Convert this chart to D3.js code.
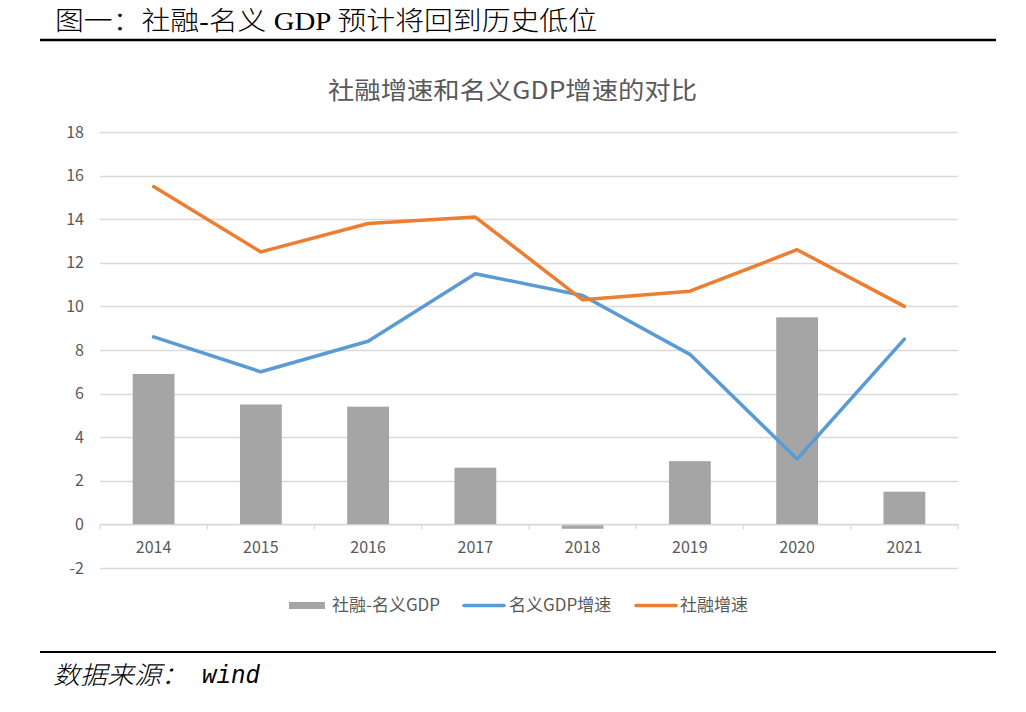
<!DOCTYPE html>
<html>
<head>
<meta charset="utf-8">
<script src="https://cdn.jsdelivr.net/npm/d3@7"></script>
<style>
  html, body { margin: 0; padding: 0; background: #fff; }
  svg { display: block; }
</style>
</head>
<body>
<svg id="chart" width="1026" height="712"></svg>
<script>
const categories = ["2014", "2015", "2016", "2017", "2018", "2019", "2020", "2021"];
const spreadValues = [6.9, 5.5, 5.4, 2.6, -0.2, 2.9, 9.5, 1.5];      // 社融-名义GDP
const gdpGrowth = [8.6, 7.0, 8.4, 11.5, 10.5, 7.8, 3.0, 8.5];        // 名义GDP增速
const tsfGrowth = [15.5, 12.5, 13.8, 14.1, 10.3, 10.7, 12.6, 10.0];  // 社融增速
const yTicks = [-2, 0, 2, 4, 6, 8, 10, 12, 14, 16, 18];
const seriesNames = ["社融-名义GDP", "名义GDP增速", "社融增速"];
const headerTitle = "图一：社融-名义 GDP 预计将回到历史低位";
const chartTitle = "社融增速和名义GDP增速的对比";
const sourceLabel = "数据来源：";
const sourceName = "wind";

const colors = { bar: "#A5A5A5", gdp: "#5B9BD5", tsf: "#ED7D31", grid: "#D9D9D9", text: "#595959" };
const cjk = "'Noto Sans CJK SC', 'Noto Sans', sans-serif";

const svg = d3.select("#chart");

// Header
svg.append("text")
  .attr("x", 55).attr("y", 30)
  .attr("font-family", "'Liberation Serif', 'Noto Sans CJK SC', serif")
  .attr("font-size", 26).attr("font-weight", 300)
  .attr("fill", "#000")
  .attr("textLength", 542).attr("lengthAdjust", "spacingAndGlyphs")
  .text(headerTitle);
svg.append("line").attr("x1", 40).attr("x2", 996).attr("y1", 40).attr("y2", 40)
  .attr("stroke", "#000").attr("stroke-width", 2.5);

// Footer
svg.append("line").attr("x1", 40).attr("x2", 996).attr("y1", 652).attr("y2", 652)
  .attr("stroke", "#000").attr("stroke-width", 2);
svg.append("text").attr("x", 53).attr("y", 684)
  .attr("font-family", cjk).attr("font-size", 25).attr("font-weight", 300)
  .attr("font-style", "italic").attr("fill", "#000")
  .attr("textLength", 135).attr("lengthAdjust", "spacingAndGlyphs")
  .text(sourceLabel);
svg.append("text").attr("x", 202).attr("y", 683)
  .attr("font-family", "'Liberation Mono', monospace").attr("font-size", 25)
  .attr("font-style", "italic").attr("fill", "#000")
  .attr("textLength", 58).attr("lengthAdjust", "spacingAndGlyphs")
  .text(sourceName);

// Chart title
svg.append("text")
  .attr("x", 328).attr("y", 99)
  .attr("font-family", cjk).attr("font-size", 24)
  .attr("fill", colors.text)
  .attr("textLength", 369).attr("lengthAdjust", "spacingAndGlyphs")
  .text(chartTitle);

// Scales
const x = d3.scaleBand().domain(categories).range([100, 958]).padding(0);
const y = d3.scaleLinear().domain([-2, 18]).range([568, 132]);

// Grid
svg.append("g").selectAll("line").data(yTicks).join("line")
  .attr("x1", 100).attr("x2", 958)
  .attr("y1", d => Math.round(y(d)) + 0.5).attr("y2", d => Math.round(y(d)) + 0.5)
  .attr("stroke", colors.grid).attr("stroke-width", 1.3);

// Y axis labels
const yAxis = d3.axisLeft(y).tickValues(yTicks).tickSize(0).tickPadding(0).tickFormat(d => String(d));
const yg = svg.append("g").attr("transform", "translate(84,0)").call(yAxis);
yg.select(".domain").remove();
yg.selectAll("text").attr("font-family", cjk).attr("font-size", 16).attr("fill", colors.text);

// Bars
const barW = x.bandwidth() * 0.39;
svg.append("g").selectAll("rect").data(spreadValues).join("rect")
  .attr("x", (d, i) => x(categories[i]) + (x.bandwidth() - barW) / 2)
  .attr("y", d => y(Math.max(0, d)))
  .attr("width", barW)
  .attr("height", d => Math.abs(y(d) - y(0)))
  .attr("fill", colors.bar);

// X axis at zero
const xAxis = d3.axisBottom(x).tickSize(0).tickPadding(0);
const xg = svg.append("g").attr("transform", `translate(0,${y(0)})`).call(xAxis);
xg.select(".domain").attr("stroke", colors.grid).attr("stroke-width", 1.3);
xg.selectAll("text").attr("font-family", cjk).attr("font-size", 16).attr("fill", colors.text)
  .attr("dy", 0).attr("y", 29);
const bounds = categories.map(c => x(c)).concat([x.range()[1]]);
xg.append("g").selectAll("line").data(bounds).join("line")
  .attr("x1", d => d).attr("x2", d => d).attr("y1", 0).attr("y2", 5)
  .attr("stroke", colors.grid).attr("stroke-width", 1.3);

// Lines
const line = d3.line().x((d, i) => x(categories[i]) + x.bandwidth() / 2).y(d => y(d));
svg.append("path").datum(gdpGrowth).attr("d", line)
  .attr("fill", "none").attr("stroke", colors.gdp).attr("stroke-width", 3.5)
  .attr("stroke-linejoin", "round").attr("stroke-linecap", "round");
svg.append("path").datum(tsfGrowth).attr("d", line)
  .attr("fill", "none").attr("stroke", colors.tsf).attr("stroke-width", 3.5)
  .attr("stroke-linejoin", "round").attr("stroke-linecap", "round");

// Legend
const lg = svg.append("g").attr("font-family", cjk).attr("font-size", 17).attr("fill", colors.text);
lg.append("rect").attr("x", 289).attr("y", 602).attr("width", 36).attr("height", 7).attr("fill", colors.bar);
lg.append("text").attr("x", 332).attr("y", 611).text(seriesNames[0]);
lg.append("line").attr("x1", 464).attr("x2", 504).attr("y1", 605.5).attr("y2", 605.5)
  .attr("stroke", colors.gdp).attr("stroke-width", 3.5).attr("stroke-linecap", "round");
lg.append("text").attr("x", 509).attr("y", 611).text(seriesNames[1]);
lg.append("line").attr("x1", 636).attr("x2", 676).attr("y1", 605.5).attr("y2", 605.5)
  .attr("stroke", colors.tsf).attr("stroke-width", 3.5).attr("stroke-linecap", "round");
lg.append("text").attr("x", 680).attr("y", 611).text(seriesNames[2]);
</script>
</body>
</html>
